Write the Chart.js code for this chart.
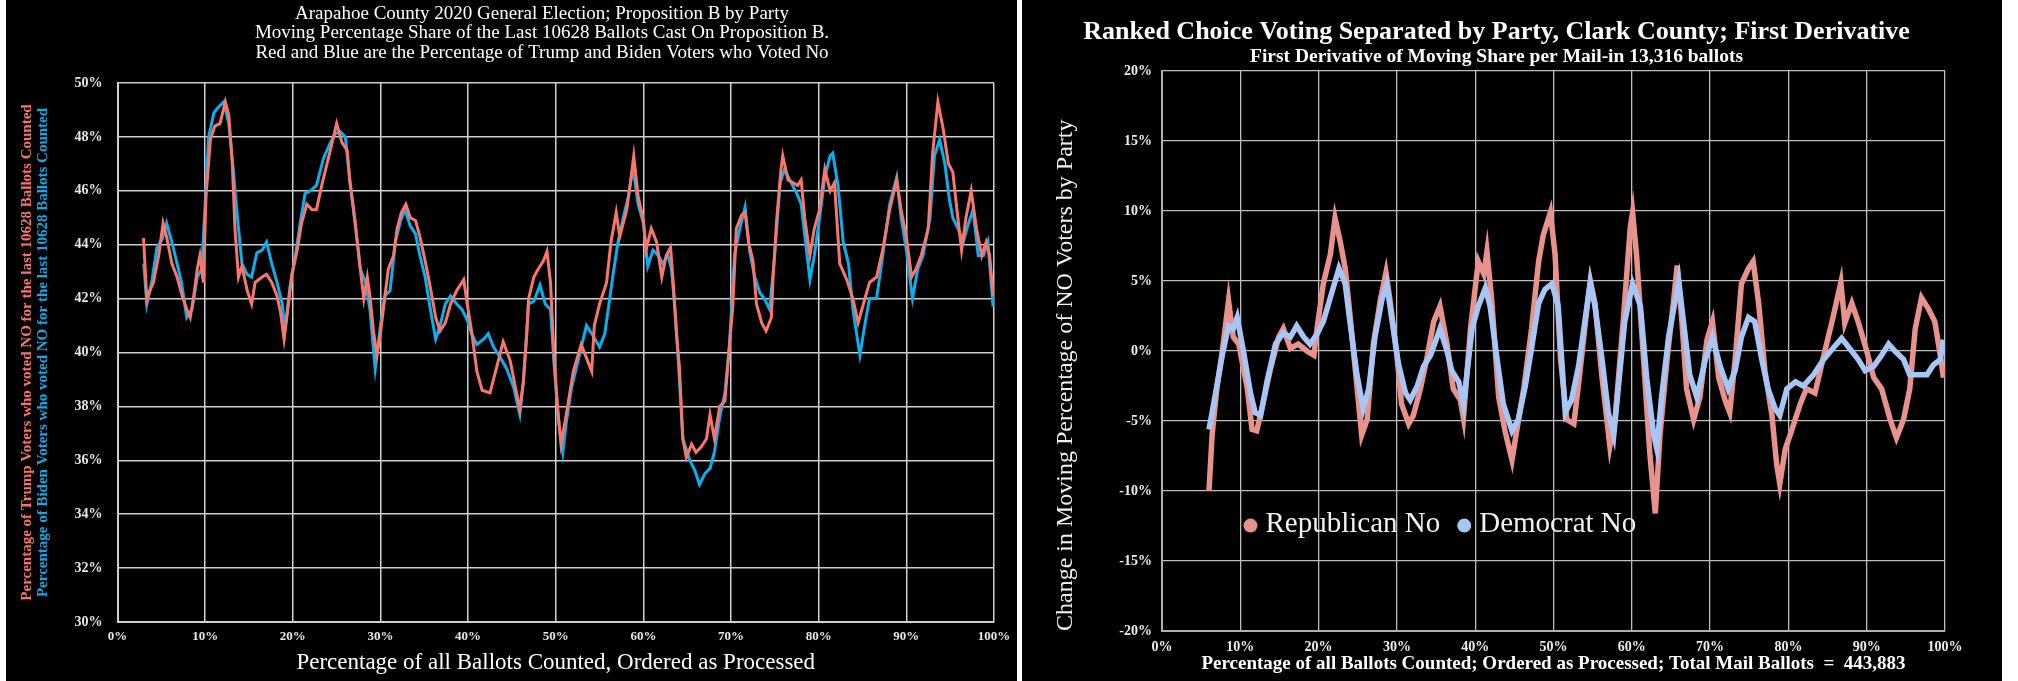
<!DOCTYPE html>
<html>
<head>
<meta charset="utf-8">
<script src="https://cdn.jsdelivr.net/npm/chart.js@4.4.1/dist/chart.umd.min.js"></script>
<style>
  html, body { margin: 0; padding: 0; background: #ffffff; }
  body { width: 2018px; height: 681px; position: relative; overflow: hidden; }
  #leftPanel { position: absolute; left: 6px; top: 0; width: 1011px; height: 681px; background: #000; overflow: visible; z-index: 1; }
  #rightPanel { position: absolute; left: 1022px; top: 0; width: 980px; height: 681px; background: #000; z-index: 2; }
  canvas { position: absolute; left: 0; top: 0; }
</style>
</head>
<body>
<div id="leftPanel"><canvas id="leftChart" width="1072" height="681"></canvas></div>
<div id="rightPanel"><canvas id="rightChart" width="949" height="681"></canvas></div>
<script>
// ---------- Left chart data (Arapahoe County, Proposition B) ----------
const trumpX = [2.97,3.35,3.7,4.1,4.7,5.2,5.6,6.2,6.8,7.3,7.9,8.3,8.7,9.1,9.4,9.8,10.1,10.6,11.1,11.7,12.3,12.7,13.1,13.4,13.8,14.2,14.8,15.3,15.7,16.5,17.0,17.6,18.2,18.6,19.0,19.5,19.9,20.5,21.0,21.6,22.2,22.7,23.3,23.9,24.5,25.0,25.6,26.2,26.5,27.1,27.7,28.1,28.5,28.8,29.2,29.6,30.0,30.4,30.9,31.5,31.9,32.4,32.9,33.4,34.0,34.5,35.1,35.7,36.3,36.8,37.4,38.0,38.7,39.5,39.9,40.4,41.0,41.6,42.5,43.3,44.0,44.8,45.4,45.9,46.3,46.7,46.9,47.5,48.0,48.6,49.0,49.4,49.8,50.2,50.6,51.2,52.0,52.9,53.5,54.1,54.4,55.0,55.8,56.3,56.9,57.3,58.1,58.6,58.9,59.4,60.0,60.3,60.9,61.5,62.1,62.6,63.1,63.4,63.8,64.1,64.5,64.9,65.5,66.0,66.6,67.2,67.6,68.1,68.7,69.3,69.8,70.2,70.6,71.2,71.6,72.0,72.5,72.9,73.5,74.0,74.6,74.8,75.2,75.7,75.9,76.5,77.1,77.6,78.0,78.4,79.0,79.5,80.1,80.7,81.3,81.8,82.4,83.2,83.9,84.5,85.1,85.8,86.6,87.3,88.1,88.9,89.4,90.0,90.6,91.1,91.7,92.5,93.0,93.6,94.2,94.8,95.3,95.7,96.3,96.8,97.4,98.0,98.6,99.1,99.5,99.9];
const trumpNo = [44.25,41.95,42.3,42.6,43.6,44.8,44.3,43.3,42.8,42.2,41.6,41.3,42.1,43.1,43.6,42.6,45.8,47.9,48.4,48.5,49.3,48.8,47.0,44.6,42.8,43.2,42.3,41.8,42.6,42.8,42.9,42.6,42.1,41.5,40.5,41.8,42.9,43.8,44.8,45.5,45.3,45.3,46.2,47.0,47.8,48.5,47.8,47.5,46.4,44.9,43.1,42.0,42.8,42.1,40.8,39.9,40.7,41.8,43.1,43.6,44.6,45.2,45.5,45.0,44.9,44.3,43.4,42.4,41.3,40.8,41.1,41.8,42.3,42.7,41.8,40.8,39.3,38.6,38.5,39.5,40.4,39.7,38.7,37.9,38.9,40.7,42.0,42.8,43.1,43.4,43.75,42.6,39.9,38.0,36.6,37.7,39.3,40.3,39.8,39.3,41.0,41.8,42.6,44.1,45.2,44.3,45.3,46.5,47.3,45.8,44.9,43.8,44.6,44.1,42.8,43.6,43.9,42.6,40.6,39.5,36.8,36.1,36.6,36.3,36.5,36.8,37.7,36.8,38.0,38.2,40.2,41.7,44.6,45.1,45.2,44.1,43.4,41.8,41.1,40.8,41.3,42.8,44.9,46.8,47.3,46.4,46.3,46.2,46.4,45.0,43.6,44.6,45.3,46.8,46.0,46.3,43.3,42.7,42.0,41.1,41.8,42.6,42.8,43.8,45.3,46.4,45.3,44.3,42.8,43.1,43.6,44.6,47.4,49.3,48.3,47.0,46.7,45.5,43.8,45.0,46.0,44.6,43.6,44.1,43.6,42.1];
const bidenX = [3.0,3.35,3.9,4.5,5.1,5.6,6.2,6.8,7.3,7.9,8.5,9.1,9.6,10.0,10.4,11.0,11.5,12.1,12.7,13.2,13.6,14.2,14.8,15.3,15.9,16.5,17.0,17.6,18.2,18.8,19.1,19.7,20.3,20.8,21.4,22.0,22.7,23.5,24.3,24.8,25.4,26.0,26.5,27.1,27.7,28.3,28.8,29.4,30.0,30.5,31.1,31.7,32.3,32.8,33.4,34.0,34.5,35.1,35.7,36.3,36.8,37.4,38.0,38.7,39.3,39.9,40.4,41.0,41.8,42.3,42.9,43.7,44.4,45.2,45.9,46.3,46.9,47.5,48.2,48.8,49.4,49.8,50.3,50.8,51.2,51.8,52.7,53.5,54.3,55.0,55.6,56.5,57.1,57.7,58.3,58.8,59.4,60.0,60.5,61.1,61.7,62.2,62.8,63.2,63.6,64.0,64.5,65.3,65.9,66.4,67.0,67.6,68.1,68.7,69.3,69.8,70.4,71.0,71.6,72.1,72.7,73.3,73.8,74.4,75.0,75.6,76.1,76.7,77.5,78.0,78.6,79.0,79.5,80.1,80.7,81.3,81.6,82.2,82.8,83.4,83.9,84.7,85.3,85.8,86.6,87.3,88.1,88.9,89.4,90.0,90.7,91.3,91.9,92.7,93.2,93.8,94.4,94.9,95.3,95.9,96.5,97.0,97.6,98.2,98.8,99.3,99.9];
const bidenNo = [43.3,41.8,42.6,43.9,44.2,44.8,44.1,43.3,42.6,41.3,41.6,42.8,43.1,45.5,48.0,48.9,49.1,49.3,48.5,46.8,45.3,43.3,42.9,42.8,43.7,43.8,44.1,43.3,42.6,41.8,40.8,42.5,43.6,44.7,45.9,46.0,46.2,47.2,47.8,48.1,48.2,48.0,46.4,44.8,43.1,42.6,41.6,39.4,41.0,42.1,42.3,44.1,44.9,45.3,44.7,44.4,43.6,42.8,41.6,40.5,41.0,41.8,42.1,41.8,41.6,41.2,40.7,40.3,40.5,40.7,40.2,39.8,39.4,38.7,37.7,38.9,41.8,41.9,42.5,41.8,41.6,39.6,37.5,36.3,37.4,38.7,39.9,41.0,40.6,40.2,40.7,42.8,44.1,45.0,45.8,46.9,45.5,44.8,43.2,43.8,43.6,43.3,43.6,43.1,41.6,39.6,36.8,36.0,35.6,35.1,35.5,35.7,36.3,37.6,38.5,40.2,43.6,44.6,45.4,43.8,42.8,42.2,42.0,41.6,43.7,46.3,46.8,46.4,45.9,45.5,43.8,42.7,43.6,45.0,46.5,47.3,47.4,46.2,44.1,43.3,41.6,39.9,41.1,42.0,42.0,43.6,45.5,46.5,45.0,43.8,42.0,43.1,43.6,45.0,47.3,47.9,47.0,45.7,45.0,44.6,44.1,44.7,45.3,43.6,43.6,44.1,41.7];

// ---------- Right chart data (Clark County, first derivative) ----------
const repX = [6.0,6.4,7.0,7.7,8.5,9.1,9.8,10.9,11.5,12.1,13.0,13.8,14.9,15.5,16.4,17.4,18.5,19.4,19.8,20.6,21.5,22.1,22.8,23.4,24.0,24.7,25.5,26.2,27.0,27.9,28.6,29.1,30.0,30.6,31.5,32.1,33.0,33.8,34.7,35.5,36.4,37.2,38.1,38.5,39.4,40.4,41.1,41.5,42.1,43.0,43.8,44.7,45.3,46.2,47.2,48.1,48.7,49.6,50.2,50.9,51.7,52.6,53.4,54.3,54.7,55.3,56.2,57.2,57.9,58.9,59.8,60.1,60.6,61.5,62.3,63.0,63.6,64.5,65.3,65.8,66.4,67.0,67.9,68.7,69.6,70.3,71.1,71.9,72.5,73.2,74.0,74.9,75.5,76.2,77.0,77.9,78.5,78.9,79.6,80.4,81.5,82.3,83.4,84.4,85.7,86.7,87.2,88.1,88.9,90.0,90.9,91.9,93.0,93.8,94.7,95.5,96.2,97.0,97.9,98.7,99.4,99.8];
const repNo = [-10,-6,-2.7,0,3.6,1,0.5,-2.7,-5.6,-5.7,-3.5,-1.4,1,1.6,0.2,0.5,0,-0.3,1.6,4.8,6.9,9.5,7.7,5.9,2.6,-1.4,-6,-4.9,0.5,3.7,5.6,3.7,-0.3,-3.8,-5.2,-4.6,-2.7,-0.6,2.1,3.2,0.5,-2.7,-3.5,-4.8,1.6,6.4,5.5,7.1,3.7,-3.3,-5.7,-7.8,-5.7,-2.7,1.6,6.4,8.3,9.9,6.9,-0.6,-4.9,-5.2,-1.4,3.2,5,3.4,-1.9,-6.8,-4.6,2.1,8.8,9.9,6.9,-0.6,-7.3,-11.6,-6,-0.6,3.4,6.1,2.1,-2.7,-4.9,-3.3,0.8,2.1,-1.9,-3.5,-4.4,-0.6,4.8,5.9,6.4,3.4,-1.4,-4.6,-8.1,-9.5,-7,-5.7,-3.8,-2.7,-3,-0.6,2.4,4.9,2,3.4,2.1,0,-1.9,-2.7,-4.9,-6.2,-4.9,-2.7,1.6,3.8,3,2.1,-0.3,-1.9];
const demX = [6.0,6.4,7.0,7.7,8.5,9.1,9.6,10.4,11.3,11.9,12.6,13.4,14.5,15.5,16.4,17.2,18.1,18.9,19.8,20.6,21.7,22.6,23.4,24.0,24.9,25.7,26.4,27.2,28.1,28.7,29.4,30.2,31.1,31.7,32.6,33.4,34.3,35.5,36.4,37.0,37.9,38.5,39.6,40.4,41.3,41.9,42.8,43.6,44.7,45.5,46.4,47.2,48.1,48.9,49.8,50.6,51.5,52.3,53.2,54.0,54.7,55.3,56.2,57.0,57.7,58.3,59.1,60.1,61.1,61.9,62.8,63.2,63.8,64.7,66.0,66.6,67.4,68.3,69.4,70.3,71.3,72.3,73.2,74.0,74.9,75.7,76.6,77.4,78.3,78.9,79.8,80.9,81.9,83.2,84.5,85.7,86.8,87.8,88.9,89.8,90.9,91.9,92.8,93.6,94.7,95.5,96.6,97.7,98.5,99.4,99.8];
const demNo = [-5.6,-4.4,-2.5,-0.3,1.8,1.6,2.4,0,-3,-4.4,-4.6,-2.2,0.5,1.3,1,1.8,1,0.5,1.2,2.1,4.2,5.9,4.8,2.1,-1.7,-4.1,-2.7,1,3.7,4.8,2.1,-0.9,-3,-3.5,-2.5,-1.1,-0.3,1.6,0,-1.4,-2.2,-3.8,1.6,3.2,4.5,3.2,-0.6,-3.8,-5.7,-4.9,-2.5,0.2,3.4,4.4,4.8,3.2,-4.4,-3.5,-1.1,2.1,4.9,3.2,-0.6,-4.4,-6,-2.5,2.1,4.8,3.2,-1.9,-6,-7,-3.3,1,5,2.1,-1.7,-3.3,-0.6,1,-1.1,-2.7,-1.4,1,2.4,2.1,-0.6,-2.7,-4.1,-4.6,-2.7,-2.2,-2.5,-1.7,-0.6,0.2,0.9,0.2,-0.6,-1.4,-1.1,-0.3,0.5,0,-0.6,-1.7,-1.7,-1.7,-1,-0.6,0.8];

// ---------- Text ----------
const leftTitle = [
  'Arapahoe County 2020 General Election; Proposition B by Party',
  'Moving Percentage Share of the Last 10628 Ballots Cast On Proposition B.',
  'Red and Blue are the Percentage of Trump and Biden Voters who Voted No'
];
const leftYTitleTrump = 'Percentage of Trump Voters who voted NO for the last 10628 Ballots Counted';
const leftYTitleBiden = 'Percentage of Biden Voters who voted NO for the last 10628 Ballots Counted';
const leftXTitle = 'Percentage of all Ballots Counted, Ordered as Processed';
const rightTitle = 'Ranked Choice Voting Separated by Party, Clark County; First Derivative';
const rightSubtitle = 'First Derivative of Moving Share per Mail-in 13,316 ballots';
const rightYTitle = 'Change in Moving Percentage of NO Voters by Party';
const rightXTitle = 'Percentage of all Ballots Counted; Ordered as Processed; Total Mail Ballots  =  443,883';
const seriesNames = ['Trump No', 'Biden No', 'Republican No', 'Democrat No'];

const SERIF = "'Liberation Serif', 'Times New Roman', serif";
const pct = v => v + '%';
const pts = (xs, ys) => xs.map((x, i) => ({x: x, y: ys[i]}));
// an invisible right-hand axis that only reserves space, so titles stay centred on the canvas
const spacerAxis = (w, min, max) => ({
  type: 'linear', position: 'right', min: min, max: max,
  ticks: { display: false }, grid: { display: false }, border: { display: false },
  afterFit: s => { s.width = w; }
});

// ---------- Left chart ----------
new Chart(document.getElementById('leftChart'), {
  type: 'line',
  data: {
    datasets: [
      { label: seriesNames[0], data: pts(trumpX, trumpNo), borderColor: '#F8766C', borderWidth: 3, pointRadius: 0, tension: 0, order: 1 },
      { label: seriesNames[1], data: pts(bidenX, bidenNo), borderColor: '#0AB0EE', borderWidth: 3, pointRadius: 0, tension: 0, order: 2 }
    ]
  },
  options: {
    responsive: false, animation: false,
    layout: { padding: 0 },
    plugins: {
      legend: { display: false }, tooltip: { enabled: false },
      title: { display: true, text: leftTitle, color: '#ffffff',
        font: { family: SERIF, size: 19, weight: 'normal', lineHeight: 1.03 }, padding: { top: 4, bottom: 20.3 } }
    },
    scales: {
      x: { type: 'linear', min: 0, max: 100,
        ticks: { stepSize: 10, callback: pct, color: '#e6e6e6', font: { family: SERIF, size: 13, weight: 'bold' }, padding: 7, maxRotation: 0 },
        grid: { color: '#cfcfcf', lineWidth: 1.5, drawTicks: false },
        border: { color: '#cfcfcf', width: 2 },
        title: { display: true, text: leftXTitle, color: '#ffffff', font: { family: SERIF, size: 23 }, padding: { top: 2, bottom: 4 } },
        afterFit: s => { s.height = 59; }
      },
      y: { type: 'linear', position: 'left', min: 30, max: 50, weight: 0,
        ticks: { stepSize: 2, callback: pct, color: '#e6e6e6', font: { family: SERIF, size: 14, weight: 'bold' }, padding: 15 },
        grid: { color: '#cfcfcf', lineWidth: 1.5, drawTicks: false },
        border: { color: '#cfcfcf', width: 2 },
        title: { display: true, text: leftYTitleBiden, color: '#12A9E6', font: { family: SERIF, size: 15, weight: 'bold' }, padding: { top: 1, bottom: 0 } },
        afterFit: s => { s.width = 84.5; }
      },
      yTrump: { type: 'linear', position: 'left', min: 30, max: 50, weight: 1,
        ticks: { display: false }, grid: { display: false }, border: { display: false },
        title: { display: true, text: leftYTitleTrump, color: '#F4756B', font: { family: SERIF, size: 15, weight: 'bold' }, padding: { top: 12, bottom: 0 } },
        afterFit: s => { s.width = 27; }
      },
      ySpacer: spacerAxis(84, 30, 50)
    }
  }
});

// ---------- Right chart ----------
const insideLegend = {
  id: 'insideLegend',
  afterDraw(chart) {
    const ctx = chart.ctx, ca = chart.chartArea;
    const y = ca.top + (ca.bottom - ca.top) * 0.81;
    let x = ca.left + (ca.right - ca.left) * 0.113;
    ctx.save();
    ctx.font = "29px " + SERIF;
    ctx.textBaseline = 'middle';
    chart.data.datasets.slice().sort((a, b) => a.legendIndex - b.legendIndex).forEach(ds => {
      ctx.fillStyle = ds.borderColor;
      ctx.beginPath(); ctx.arc(x, y + 1, 7, 0, Math.PI * 2); ctx.fill();
      ctx.fillStyle = '#f2f2f2';
      ctx.fillText(ds.label, x + 15, y);
      x += 15 + ctx.measureText(ds.label).width + 24;
    });
    ctx.restore();
  }
};

new Chart(document.getElementById('rightChart'), {
  type: 'line',
  data: {
    datasets: [
      { label: seriesNames[2], legendIndex: 0, data: pts(repX, repNo), borderColor: '#E8928E', borderWidth: 5.5, pointRadius: 0, tension: 0, order: 2 },
      { label: seriesNames[3], legendIndex: 1, data: pts(demX, demNo), borderColor: '#A7C6F5', borderWidth: 5.5, pointRadius: 0, tension: 0, order: 1 }
    ]
  },
  plugins: [insideLegend],
  options: {
    responsive: false, animation: false,
    layout: { padding: 0 },
    plugins: {
      legend: { display: false }, tooltip: { enabled: false },
      title: { display: true, text: rightTitle, color: '#ffffff', font: { family: SERIF, size: 26, weight: 'bold', lineHeight: 1.0 }, padding: { top: 19, bottom: 2.5 } },
      subtitle: { display: true, text: rightSubtitle, color: '#ffffff', font: { family: SERIF, size: 19.5, weight: 'bold', lineHeight: 1.0 }, padding: { top: 0, bottom: 4 } }
    },
    scales: {
      x: { type: 'linear', min: 0, max: 100,
        ticks: { stepSize: 10, callback: pct, color: '#ededed', font: { family: SERIF, size: 14, weight: 'bold' }, padding: 8, maxRotation: 0 },
        grid: { color: '#bdbdbd', lineWidth: 1.3, drawTicks: false },
        border: { color: '#b0b0b0', width: 2 },
        title: { display: true, text: rightXTitle, color: '#ffffff', font: { family: SERIF, size: 19, weight: 'bold' }, padding: { top: 2, bottom: 6 } },
        afterFit: s => { s.height = 50; }
      },
      y: { type: 'linear', min: -20, max: 20,
        ticks: { stepSize: 5, callback: pct, color: '#ededed', font: { family: SERIF, size: 14, weight: 'bold' }, padding: 10 },
        grid: { color: '#bdbdbd', lineWidth: 1.3, drawTicks: false },
        border: { color: '#b0b0b0', width: 2 },
        title: { display: true, align: 'start', text: rightYTitle, color: '#f0f0f0', font: { family: SERIF, size: 24 }, padding: { top: 29, bottom: 0 } },
        afterFit: s => { s.width = 140; }
      },
      ySpacer: spacerAxis(26, -20, 20)
    }
  }
});
</script>
</body>
</html>
